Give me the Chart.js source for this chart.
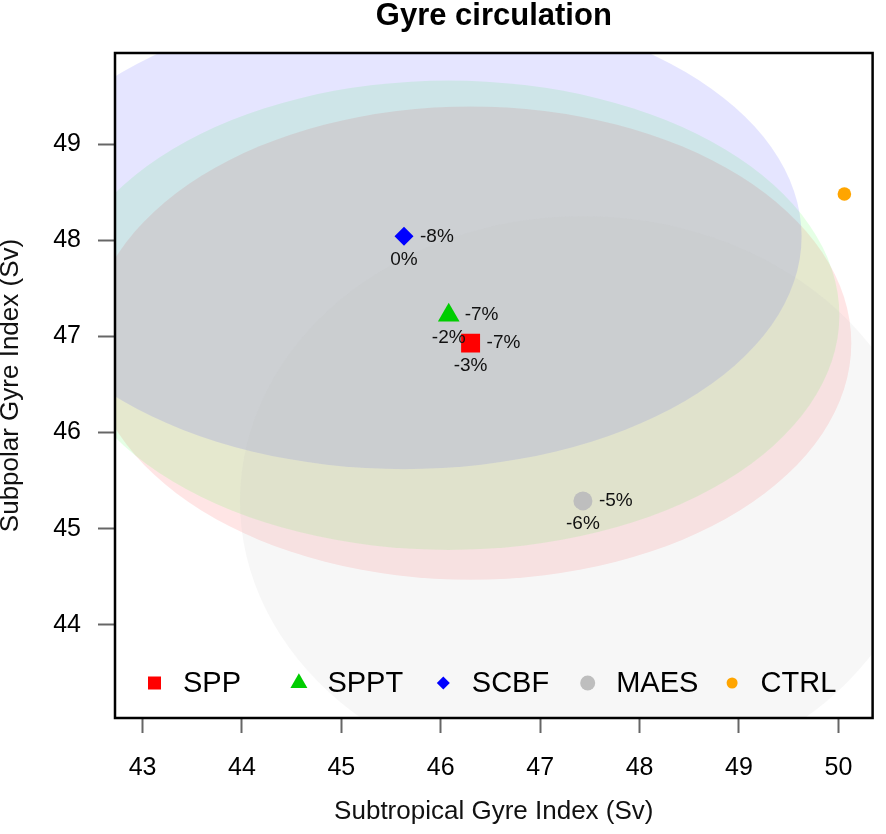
<!DOCTYPE html>
<html>
<head>
<meta charset="utf-8">
<script src="https://cdn.jsdelivr.net/npm/chart.js@4.4.1/dist/chart.umd.min.js"></script>
<style>
html,body{margin:0;padding:0;background:#ffffff;}
#wrap{width:886px;height:834px;}
</style>
</head>
<body>
<div id="wrap"><canvas id="c" width="886" height="834"></canvas></div>
<script>
// ---- data ----
const seriesNames = ['SPP', 'SPPT', 'SCBF', 'MAES', 'CTRL'];
const subtropicalIndex = [46.30, 46.08, 45.63, 47.43, 50.06];   // x (Sv)
const subpolarIndex    = [46.93, 47.22, 48.04, 45.29, 48.48];   // y (Sv)
const labelRight = ['-7%', '-7%', '-8%', '-5%', ''];
const labelBelow = ['-3%', '-2%', '0%', '-6%', ''];
const spreadX = [3.83, 3.93, 4.00, 3.45, 0];   // ellipse semi-axis along x (Sv)
const spreadY = [2.46, 2.44, 2.42, 2.96, 0];   // ellipse semi-axis along y (Sv)
const xTickValues = [43, 44, 45, 46, 47, 48, 49, 50];
const yTickValues = [44, 45, 46, 47, 48, 49];
const xRange = [42.723, 50.344];
const yRange = [43.033, 49.946];

// ---- styles ----
const markerColors = ['#FF0000', '#00CD00', '#0000FF', '#BEBEBE', '#FFA500'];
const ellipseFills = ['rgba(255,0,0,0.10)', 'rgba(0,255,0,0.10)', 'rgba(0,0,255,0.10)', 'rgba(190,190,190,0.12)', 'rgba(0,0,0,0)'];
const markerStyles = ['rect', 'triangle', 'rectRot', 'circle', 'circle'];
const markerRadii = [13.4, 12.5, 9.5, 9.5, 6.8];
const legendRadii = [9.2, 9.8, 6.5, 7.5, 5.5];
const FONT = '"Liberation Sans", Arial, Helvetica, sans-serif';

Chart.defaults.font.family = FONT;
Chart.defaults.color = '#000';

const datasets = seriesNames.map((name, i) => ({
  label: name,
  data: [{ x: subtropicalIndex[i], y: subpolarIndex[i] }],
  pointStyle: markerStyles[i],
  pointRadius: markerRadii[i],
  pointHoverRadius: markerRadii[i],
  pointBackgroundColor: markerColors[i],
  pointBorderColor: markerColors[i],
  pointBorderWidth: 0,
  showLine: false
}));

const ellipsePlugin = {
  id: 'ellipses',
  beforeDatasetsDraw(chart) {
    const { ctx, chartArea: a, scales: { x, y } } = chart;
    ctx.save();
    ctx.beginPath();
    ctx.rect(a.left, a.top, a.right - a.left, a.bottom - a.top);
    ctx.clip();
    seriesNames.forEach((n, i) => {
      if (!spreadX[i] || !spreadY[i]) return;
      const cx = x.getPixelForValue(subtropicalIndex[i]);
      const cy = y.getPixelForValue(subpolarIndex[i]);
      const rx = Math.abs(x.getPixelForValue(subtropicalIndex[i] + spreadX[i]) - cx);
      const ry = Math.abs(y.getPixelForValue(subpolarIndex[i] + spreadY[i]) - cy);
      ctx.beginPath();
      ctx.ellipse(cx, cy, rx, ry, 0, 0, Math.PI * 2);
      ctx.fillStyle = ellipseFills[i];
      ctx.fill();
    });
    ctx.restore();
  }
};

const decorPlugin = {
  id: 'decor',
  afterDatasetsDraw(chart) {
    const { ctx, chartArea: a, scales: { x, y } } = chart;
    ctx.save();
    // point labels
    ctx.font = '19px ' + FONT;
    ctx.fillStyle = '#111';
    ctx.textBaseline = 'middle';
    seriesNames.forEach((n, i) => {
      const px = x.getPixelForValue(subtropicalIndex[i]);
      const py = y.getPixelForValue(subpolarIndex[i]);
      if (labelRight[i]) { ctx.textAlign = 'left'; ctx.fillText(labelRight[i], px + 16, py); }
      if (labelBelow[i]) { ctx.textAlign = 'center'; ctx.fillText(labelBelow[i], px, py + 23); }
    });
    // legend inside plot
    const ly = a.bottom - 35;
    const lx0 = a.left + 39.5;
    const step = 144.4;
    seriesNames.forEach((n, i) => {
      const mx = lx0 + i * step;
      ctx.fillStyle = markerColors[i];
      ctx.strokeStyle = markerColors[i];
      Chart.helpers.drawPoint(ctx, { pointStyle: markerStyles[i], radius: legendRadii[i], rotation: 0, borderWidth: 0 }, mx, ly);
      ctx.fillStyle = '#000';
      ctx.font = '29px ' + FONT;
      ctx.textAlign = 'left';
      ctx.textBaseline = 'middle';
      ctx.fillText(n, mx + 28.5, ly + 1);
    });
    // box
    ctx.lineWidth = 2.5;
    ctx.strokeStyle = '#000';
    ctx.strokeRect(a.left, a.top, a.right - a.left, a.bottom - a.top);
    // title centered over plot
    ctx.font = 'bold 31px ' + FONT;
    ctx.fillStyle = '#000';
    ctx.textAlign = 'center';
    ctx.textBaseline = 'middle';
    ctx.fillText('Gyre circulation', (a.left + a.right) / 2, 16);
    ctx.restore();
  }
};

new Chart(document.getElementById('c'), {
  type: 'scatter',
  data: { datasets },
  plugins: [ellipsePlugin, decorPlugin],
  options: {
    responsive: false,
    devicePixelRatio: 1,
    animation: false,
    events: [],
    layout: { padding: { top: 53, right: 8.3, left: 0, bottom: 0 } },
    plugins: { legend: { display: false }, tooltip: { enabled: false }, title: { display: false } },
    scales: {
      x: {
        type: 'linear',
        min: xRange[0], max: xRange[1],
        afterBuildTicks: s => { s.ticks = xTickValues.map(v => ({ value: v })); },
        afterFit: s => { s.height = 116; },
        ticks: { font: { size: 25 }, color: '#000', padding: 20, callback: v => String(v) },
        grid: { drawOnChartArea: false, drawTicks: true, tickLength: 15, tickColor: '#666', tickWidth: 2 },
        border: { display: false },
        title: { display: true, text: 'Subtropical Gyre Index (Sv)', font: { size: 26 }, color: '#111', padding: { top: 0, bottom: 7 } }
      },
      y: {
        type: 'linear',
        min: yRange[0], max: yRange[1],
        afterBuildTicks: s => { s.ticks = yTickValues.map(v => ({ value: v })); },
        afterFit: s => { s.width = 115; },
        ticks: { font: { size: 25 }, color: '#000', padding: 17, callback: v => String(v) },
        grid: { drawOnChartArea: false, drawTicks: true, tickLength: 17, tickColor: '#666', tickWidth: 2 },
        border: { display: false },
        title: { display: true, text: 'Subpolar Gyre Index (Sv)', font: { size: 26, lineHeight: 0.85 }, color: '#111', padding: { top: 0, bottom: 0 } }
      }
    }
  }
});
</script>
</body>
</html>
